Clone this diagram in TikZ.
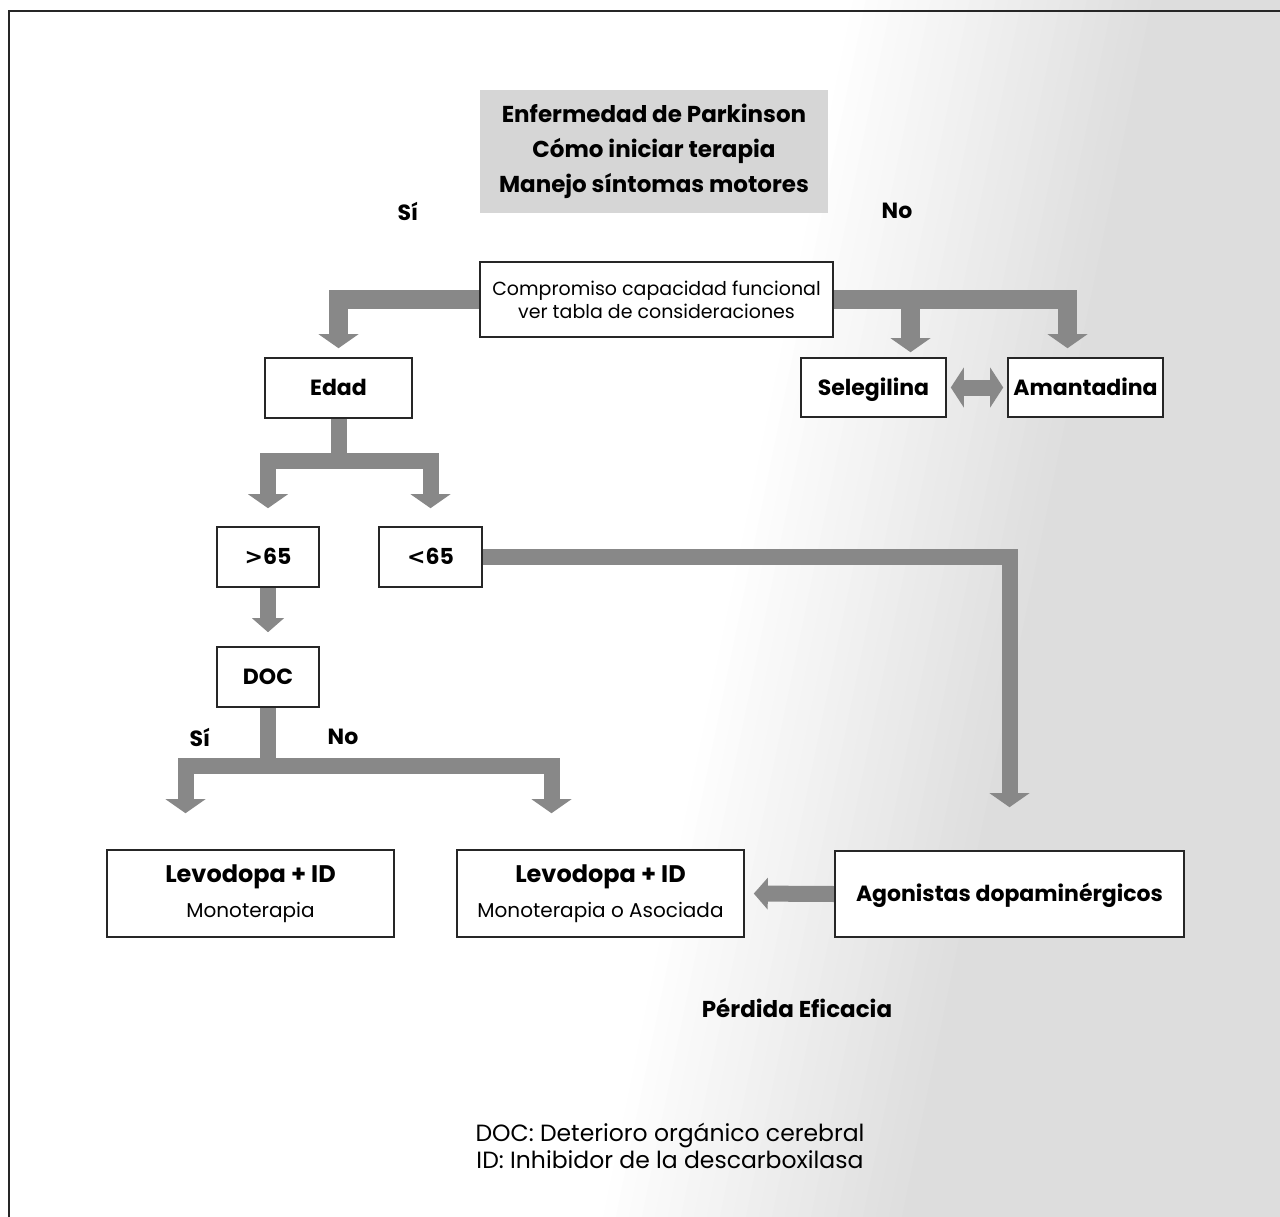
\documentclass[tikz,border=0pt]{standalone}
\usepackage{fontspec}
\setmainfont{Poppins}
\newfontfamily\symfont{DejaVu Sans}
\usetikzlibrary{arrows.meta}
\definecolor{arrowgray}{HTML}{888888}
\definecolor{titlegray}{HTML}{D6D6D6}
\pgfdeclarelayer{bg}
\pgfdeclarelayer{conn}
\pgfsetlayers{bg,conn,main}
\begin{document}
\begin{tikzpicture}[x=1pt,y=-1pt,
  box/.style={draw=black!85,line width=1.6pt,fill=white,inner sep=0pt,align=center},
  btxt/.style={font=\bfseries\fontsize{22}{30}\selectfont,text height=17pt,text depth=2pt},
  rtxt/.style={font=\fontsize{19}{23}\selectfont},
  lbl/.style={font=\bfseries\fontsize{22}{30}\selectfont,inner sep=0pt},
  gtip/.style={-{Triangle[width=#1,length=14pt,line width=0pt]}},
  garrow/.style={draw=arrowgray,line width=19pt,line join=miter,gtip=40pt},
  garrowthin/.style={draw=arrowgray,line width=16pt,line join=miter,gtip=40pt}
]
\useasboundingbox (0,0) rectangle (1280,1217);

% background photo tone
\begin{pgfonlayer}{bg}
  \foreach \i in {1,...,24}{
    \pgfmathsetmacro\g{\i*0.55}
    \fill[black!\g] (840+\i*13,0) -- (1280,0) -- (1280,1217) -- (590+\i*13,1217) -- cycle;
  }
\end{pgfonlayer}

% frame
\draw[black!85,line width=2pt] (9,1217) -- (9,11) -- (1280,11);

% title
\node[fill=titlegray,minimum width=348pt,minimum height=123pt,inner sep=0pt,align=center,
      font=\bfseries\fontsize{23}{35}\selectfont] (title) at (654,151.5)
  {Enfermedad de Parkinson\\Cómo iniciar terapia\\Manejo síntomas motores};

\node[lbl] (si1) at (408,211) {Sí};
\node[lbl] (no1) at (897,211) {No};

% boxes
\node[box,rtxt,minimum width=353pt,minimum height=75pt] (comp) at (656.5,299.5)
  {Compromiso capacidad funcional\\ver tabla de consideraciones};
\node[box,btxt,minimum width=147pt,minimum height=60pt] (edad) at (338.5,388) {Edad};
\node[box,btxt,minimum width=145pt,minimum height=59pt] (seleg) at (873.5,387.5) {Selegilina};
\node[box,btxt,minimum width=155pt,minimum height=59pt] (amant) at (1085.5,387.5) {Amantadina};
\node[box,btxt,minimum width=102pt,minimum height=60pt] (g65) at (268,557) {{\symfont\bfseries >}65};
\node[box,btxt,minimum width=103pt,minimum height=60pt] (l65) at (430.5,557) {{\symfont\bfseries <}65};
\node[box,btxt,minimum width=102pt,minimum height=60pt] (doc) at (268,677) {DOC};
\node[box,font=\fontsize{20}{35}\selectfont,minimum width=287pt,minimum height=87pt] (lev1) at (250.5,893.5)
  {{\bfseries\fontsize{24}{35}\selectfont Levodopa + ID}\\Monoterapia};
\node[box,font=\fontsize{20}{35}\selectfont,minimum width=287pt,minimum height=87pt] (lev2) at (600.5,893.5)
  {{\bfseries\fontsize{24}{35}\selectfont Levodopa + ID}\\Monoterapia o Asociada};
\node[box,btxt,minimum width=349pt,minimum height=86pt] (agon) at (1009.5,894) {Agonistas dopaminérgicos};

\node[lbl] (si2) at (200,737) {Sí};
\node[lbl] (no2) at (343,737) {No};

\node[lbl,font=\bfseries\fontsize{23}{30}\selectfont] (perd) at (797,1008) {Pérdida Eficacia};
\node[font=\fontsize{23.5}{27}\selectfont,align=center,inner sep=0pt] (foot) at (670,1146)
  {DOC: Deterioro orgánico cerebral\\ID: Inhibidor de la descarboxilasa};

% connectors
\begin{pgfonlayer}{conn}
  \draw[garrow,shorten >=9pt] (comp.west) -| (edad.north);
  \draw[garrow,shorten >=5pt] (comp.east) -| ([xshift=37pt]seleg.north);
  \draw[garrow,shorten >=9pt] (comp.east) -| ([xshift=-18pt]amant.north);
  \draw[draw=arrowgray,line width=16pt,
        {Triangle[width=40pt,length=13pt,line width=0pt]}-{Triangle[width=40pt,length=13pt,line width=0pt]},
        shorten <=4pt,shorten >=4pt] (seleg.east) -- (amant.west);
  \draw[garrowthin,shorten >=18pt] (edad.south) -- ++(0,42) -| (g65.north);
  \draw[garrowthin,shorten >=18pt] (edad.south) -- ++(0,42) -| (l65.north);
  \draw[garrowthin,gtip=32pt,shorten >=14pt] (g65.south) -- (doc.north);
  \draw[garrowthin,shorten >=36pt] (doc.south) -- ++(0,58) -| ([xshift=-65pt]lev1.north);
  \draw[garrowthin,shorten >=36pt] (doc.south) -- ++(0,58) -| ([xshift=-49pt]lev2.north);
  \draw[garrowthin,shorten >=43pt] (l65.east) -| (agon.north);
  \draw[garrowthin,gtip=32pt,shorten >=9pt] (agon.west) -- (lev2.east);
\end{pgfonlayer}
\end{tikzpicture}
\end{document}
